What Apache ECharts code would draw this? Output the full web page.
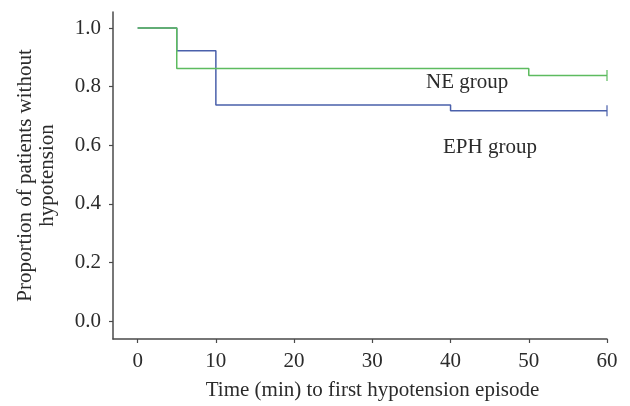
<!DOCTYPE html>
<html><head><meta charset="utf-8">
<script src="https://cdn.jsdelivr.net/npm/echarts@6/dist/echarts.min.js"></script>
<style>html,body{margin:0;padding:0;background:#fff}#c{width:630px;height:406px}</style>
</head><body><div id="c"></div>
<script>
var neTimes = [0, 5, 50, 60];
var neSurv = [1.0, 0.862, 0.838, 0.838];
var ephTimes = [0, 5, 10, 40, 60];
var ephSurv = [1.0, 0.923, 0.738, 0.718, 0.718];
var xTicks = [0, 10, 20, 30, 40, 50, 60];
var yTicks = [0, 0.2, 0.4, 0.6, 0.8, 1.0];
var neCensor = [[60, 0.838]];
var ephCensor = [[60, 0.718]];

function zip(a, b) { return a.map(function (v, i) { return [v, b[i]]; }); }
var font = 'Liberation Serif';
var fs = 21;
var txt = '#2b2b2b';
var green = '#5dbb5f';
var blue = '#4a60ab';
var chart = echarts.init(document.getElementById('c'));
chart.setOption({
  animation: false,
  grid: { left: 113, right: 23, top: 12, bottom: 66, containLabel: false },
  xAxis: {
    type: 'value', min: -3.15, max: 60,
    splitLine: { show: false },
    axisLine: { show: true, onZero: false, lineStyle: { color: '#4a4a4a', width: 1.5 } },
    axisTick: { show: true, length: 4, customValues: xTicks, lineStyle: { color: '#4a4a4a', width: 1.2 } },
    axisLabel: { customValues: xTicks, margin: 12, color: txt, fontFamily: font, fontSize: fs },
    name: 'Time (min) to first hypotension episode',
    nameLocation: 'middle', nameGap: 41,
    nameTextStyle: { color: txt, fontFamily: font, fontSize: fs, padding: [0, 0, 0, 25] }
  },
  yAxis: {
    type: 'value', min: -0.061, max: 1.055,
    splitLine: { show: false },
    axisLine: { show: true, onZero: false, lineStyle: { color: '#4a4a4a', width: 1.5 } },
    axisTick: { show: true, length: 4, customValues: yTicks, lineStyle: { color: '#4a4a4a', width: 1.2 } },
    axisLabel: { customValues: yTicks, margin: 12, color: txt, fontFamily: font, fontSize: fs,
      formatter: function (v) { return v.toFixed(1); } },
    name: 'Proportion of patients without\nhypotension',
    nameLocation: 'middle', nameGap: 55, nameRotate: 90,
    nameTextStyle: { color: txt, fontFamily: font, fontSize: fs, lineHeight: 22 }
  },
  series: [
    { name: 'EPH group', type: 'line', step: 'end', data: zip(ephTimes, ephSurv), showSymbol: false,
      lineStyle: { color: blue, width: 1.5 }, z: 2 },
    { name: 'NE group', type: 'line', step: 'end', data: zip(neTimes, neSurv), showSymbol: false,
      lineStyle: { color: green, width: 1.5 }, z: 3 },
    { type: 'scatter', data: ephCensor, symbol: 'rect', symbolSize: [1.5, 11], itemStyle: { color: blue }, z: 4 },
    { type: 'scatter', data: neCensor, symbol: 'rect', symbolSize: [1.5, 11], itemStyle: { color: green }, z: 4 }
  ],
  graphic: [
    { type: 'text', left: 426, top: 72, style: { text: 'NE group', fill: txt, font: fs + 'px "Liberation Serif"' } },
    { type: 'text', left: 443, top: 137, style: { text: 'EPH group', fill: txt, font: fs + 'px "Liberation Serif"' } }
  ]
});
</script></body></html>
